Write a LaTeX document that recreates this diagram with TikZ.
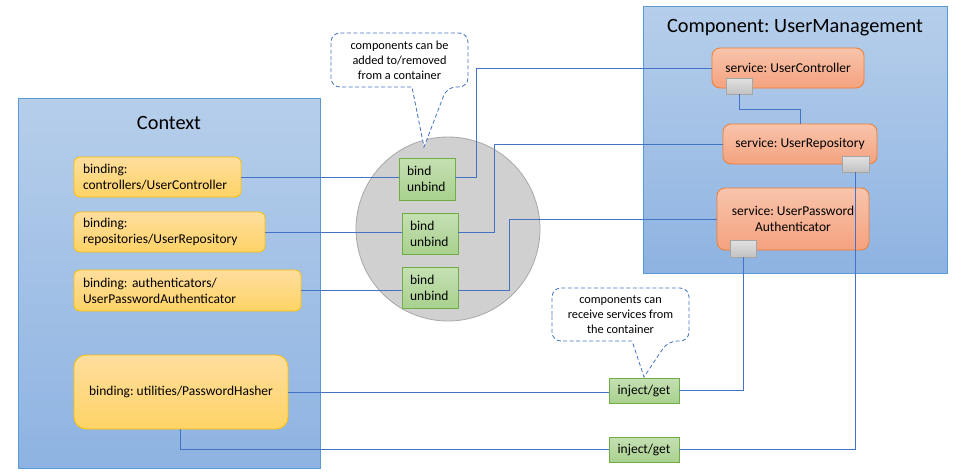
\documentclass[tikz,border=0pt]{standalone}
\usepackage{fontspec}
\setmainfont{Carlito}
\usetikzlibrary{calc}
\pgfdeclarelayer{bg}
\pgfsetlayers{bg,main}

\definecolor{contline}{HTML}{5B9BD5}
\definecolor{conttop}{HTML}{B6CEEA}
\definecolor{contbot}{HTML}{8EB3E2}
\definecolor{bindline}{HTML}{FFC000}
\definecolor{bindtop}{HTML}{FEDE9E}
\definecolor{bindbot}{HTML}{FFD366}
\definecolor{servline}{HTML}{ED7D31}
\definecolor{servtop}{HTML}{F8C4AC}
\definecolor{servbot}{HTML}{F4A27E}
\definecolor{grnline}{HTML}{70AD47}
\definecolor{grntop}{HTML}{C5E0B4}
\definecolor{grnbot}{HTML}{A9D18E}
\definecolor{portline}{HTML}{A5A5A5}
\definecolor{porttop}{HTML}{E2E2E2}
\definecolor{portbot}{HTML}{C2C2C2}
\definecolor{wire}{HTML}{4472C4}
\definecolor{poolfill}{HTML}{D0D0D0}
\definecolor{poolline}{HTML}{A8A8A8}

\tikzset{
  basefont/.style={font=\fontsize{13.5}{16}\selectfont\frenchspacing},
  container/.style={draw=contline, line width=0.8pt, top color=conttop, bottom color=contbot, inner sep=0pt},
  title/.style={font=\fontsize{20.3}{24}\selectfont\frenchspacing},
  bindingbox/.style={basefont, draw=bindline, line width=0.8pt, top color=bindtop, bottom color=bindbot,
    rounded corners=6pt, inner xsep=9pt, inner ysep=0pt, align=left},
  servicebox/.style={basefont, draw=servline, line width=0.8pt, top color=servtop, bottom color=servbot,
    rounded corners=8pt, inner sep=0pt, align=center},
  opbox/.style={basefont, draw=grnline, line width=0.8pt, top color=grntop, bottom color=grnbot,
    inner sep=0pt, align=left},
  portbox/.style={draw=portline, line width=0.8pt, top color=porttop, bottom color=portbot, inner sep=0pt},
  wireline/.style={draw=wire, line width=0.9pt},
  noteshape/.style={draw=wire, line width=0.8pt, dash pattern=on 4pt off 2.5pt, fill=white},
  notetext/.style={font=\fontsize{12.3}{15}\selectfont, align=center, inner sep=0pt},
}

\begin{document}
\begin{tikzpicture}[x=1pt, y=-1pt]
\useasboundingbox (0,0) rectangle (966,471);

% ---- containers ----
\begin{pgfonlayer}{bg}
  \node[container, minimum width=302pt, minimum height=370pt] (ctx) at (169,283) {};
  \node[container, minimum width=304pt, minimum height=267pt] (comp) at (795,139.5) {};
  \node[draw=poolline, fill=poolfill, line width=0.8pt, circle, minimum size=184pt, inner sep=0pt] (pool) at (448,229) {};
\end{pgfonlayer}

\node[title] (ctxtitle) at (169,123) {Context};
\node[title] (comptitle) at (795,28) {Component: UserManagement};

% ---- bindings in the context ----
\node[bindingbox, text width=149pt, minimum height=40pt] (b1) at (157.5,177) {binding:\\controllers/UserController};
\node[bindingbox, text width=173pt, minimum height=40pt] (b2) at (169.5,232) {binding:\\repositories/UserRepository};
\node[bindingbox, text width=209pt, minimum height=41pt] (b3) at (187.5,290.5) {binding: authenticators/\\UserPasswordAuthenticator};
\node[bindingbox, rounded corners=12pt, align=center, inner xsep=0pt, minimum width=214pt, minimum height=74pt] (b4) at (181,392) {binding: utilities/PasswordHasher};

% ---- container operations ----
\node[opbox, minimum width=56pt, minimum height=42pt, text width=40pt] (op1) at (427,179) {bind\\unbind};
\node[opbox, minimum width=56pt, minimum height=41pt, text width=40pt] (op2) at (430,233.5) {bind\\unbind};
\node[opbox, minimum width=56pt, minimum height=41pt, text width=40pt] (op3) at (430,287.5) {bind\\unbind};
\node[opbox, align=center, minimum width=70pt, minimum height=25pt] (inj1) at (644,390.5) {inject/get};
\node[opbox, align=center, minimum width=70pt, minimum height=25pt] (inj2) at (644,449.5) {inject/get};

% ---- services of the component ----
\node[servicebox, minimum width=152pt, minimum height=40pt] (uc) at (788,68) {service: UserController};
\node[servicebox, minimum width=154pt, minimum height=40pt] (ur) at (800,144) {service: UserRepository};
\node[servicebox, minimum width=152pt, minimum height=62pt] (ua) at (793,219) {service: UserPassword\\Authenticator};

\node[portbox, minimum width=26pt, minimum height=16pt] (ucport) at (739,86) {};
\node[portbox, minimum width=27pt, minimum height=16pt] (urport) at (855.5,164) {};
\node[portbox, minimum width=26pt, minimum height=17pt] (uaport) at (743,248.5) {};

% ---- wiring ----
\draw[wireline] (b1.east) -- (b1.east -| op1.west);
\draw[wireline] (b2.east) -- (b2.east -| op2.west);
\draw[wireline] (b3.east) -- (b3.east -| op3.west);
\draw[wireline] (op1.east |- b1.east) -- ++(21,0) |- (uc.west);
\draw[wireline] (op2.east |- b2.east) -- ++(36,0) |- (ur.west);
\draw[wireline] (op3.east |- b3.east) -- ++(51,0) |- (ua.west);
\draw[wireline] (ucport.south) -- ++(0,15) -| (ur.north);
\draw[wireline] (b4.east) -- (b4.east -| inj1.west);
\draw[wireline] (inj1.east) -| (uaport.south);
\draw[wireline] (b4.south -| 180,0) |- (inj2.west);
\draw[wireline] (inj2.east) -| (urport.south);

% ---- notes ----
\coordinate (tipa) at (424,147);
\draw[noteshape] (331,60) [rounded corners=9pt] -- (331,33) -- (468,33) -- (468,87) -- (447,87)
  [sharp corners] -- (tipa) -- (412,87) -- (405,87) [rounded corners=9pt] -- (331,87) -- (331,60);
\node[notetext] (notea) at (399.5,60) {components can be\\added to/removed\\from a container};

\coordinate (tipb) at (644,377);
\draw[noteshape] (552,315) [rounded corners=9pt] -- (552,288) -- (689,288) -- (689,341) -- (668,341)
  [sharp corners] -- (tipb) -- (632,341) -- (625,341) [rounded corners=9pt] -- (552,341) -- (552,315);
\node[notetext] (noteb) at (620.5,315) {components can\\receive services from\\the container};
\end{tikzpicture}
\end{document}
